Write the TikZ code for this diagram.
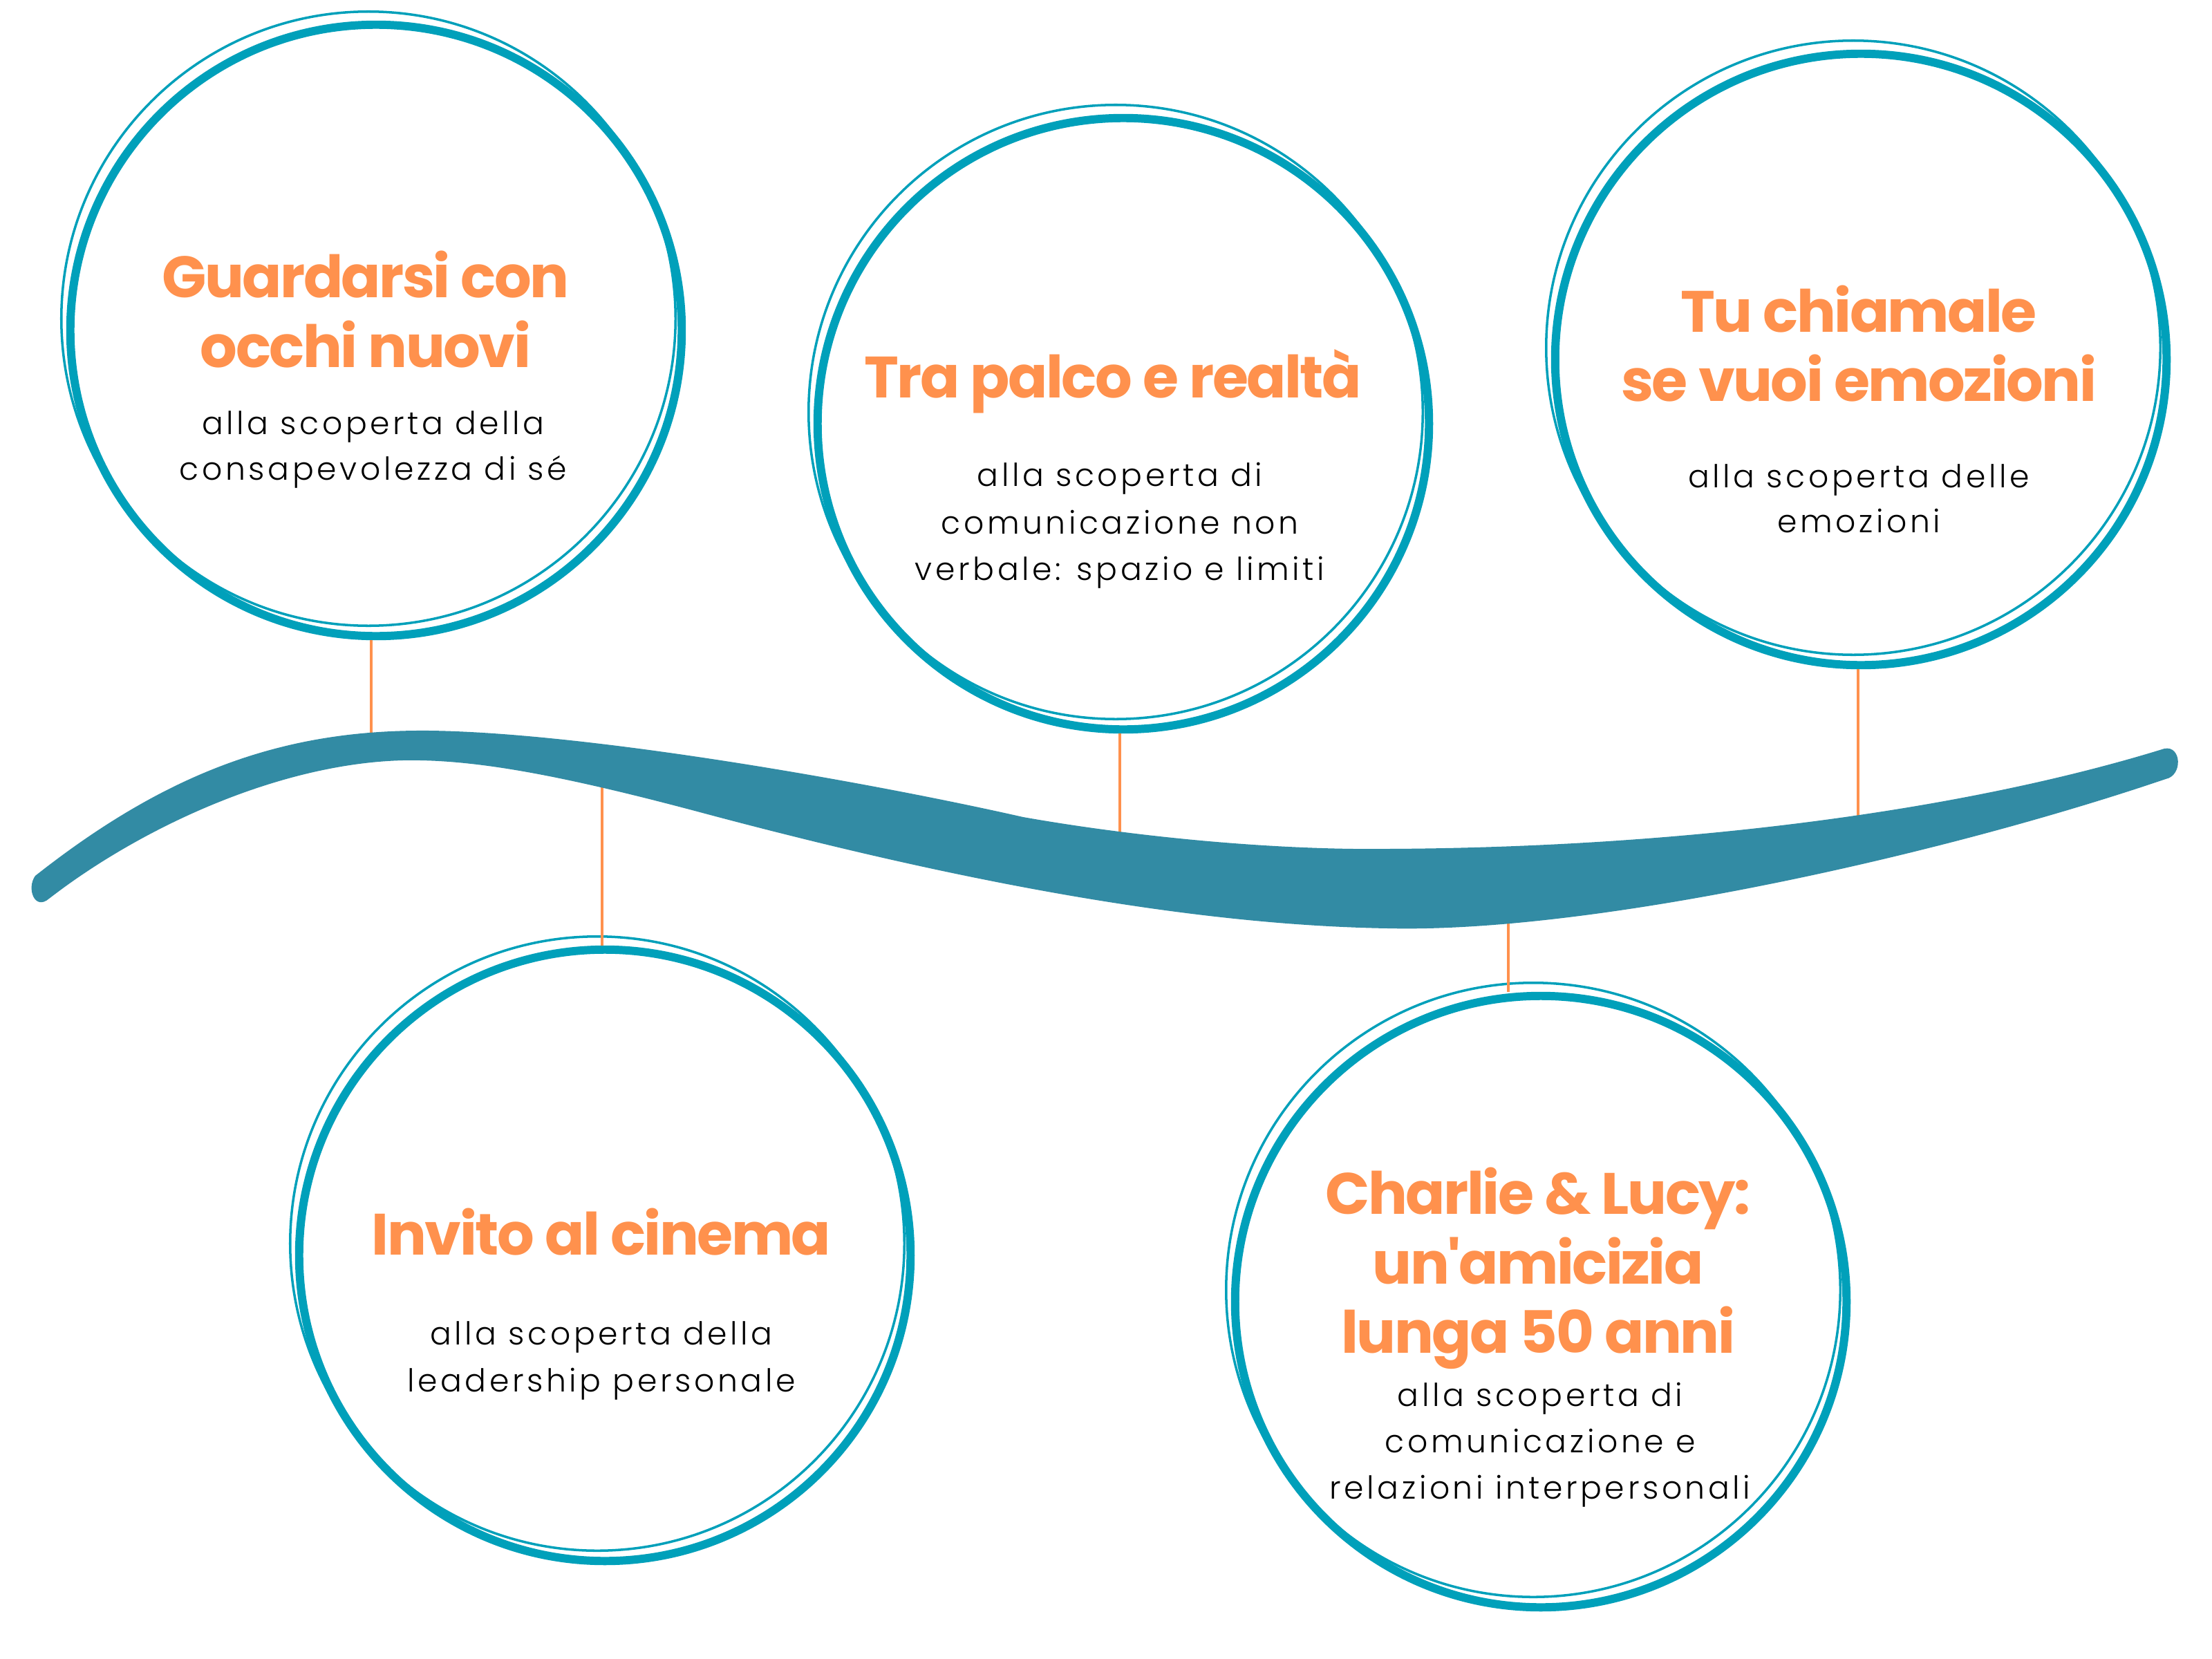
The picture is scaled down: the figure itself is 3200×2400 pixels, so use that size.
\documentclass[tikz,border=0pt]{standalone}
\usepackage{fontspec}
\newfontfamily\titlefont{Poppins}[LetterSpace=-3]
\IfFontExistsTF{Poppins Light}
  {\newfontfamily\subfont{Poppins Light}[LetterSpace=10]}
  {\newfontfamily\subfont{Poppins}[LetterSpace=10]}
\definecolor{ringc}{RGB}{0,160,186}
\definecolor{wavec}{RGB}{50,139,164}
\definecolor{orangec}{RGB}{255,145,77}
\tikzset{
  ringthick/.style={circle, draw=ringc, line width=3.4pt, minimum size=8.84cm, inner sep=0pt},
  ringthin/.style={draw=ringc, line width=1pt},
  link/.style={draw=orangec, line width=0.9pt},
  ttl/.style={anchor=base, text=orangec, inner sep=0pt, font=\titlefont\bfseries\fontsize{24}{28}\selectfont},
  sub/.style={anchor=base, text=black, inner sep=0pt, font=\subfont\fontsize{13}{19}\selectfont},
}
\begin{document}
\begin{tikzpicture}[x=0.01cm, y=-0.01cm]
\useasboundingbox (0,0) rectangle (3200,2400);
\fill[white] (0,0) rectangle (3200,2400);

% wave anchor points
\coordinate (w1) at (537,1080);
\coordinate (w2) at (871,1125);
\coordinate (w3) at (1620,1225);
\coordinate (w4) at (2182,1320);
\coordinate (w5) at (2688,1200);

% circles (thick rings as nodes)
\node[ringthick] (c1) at (544,478) {};
\node[ringthick] (c2) at (1625,613) {};
\node[ringthick] (c3) at (2692,520) {};
\node[ringthick] (c4) at (875,1816) {};
\node[ringthick] (c5) at (2229,1883) {};
\draw[ringthin] (c1.center) ++(-11,-17) circle[radius=4.44cm];
\draw[ringthin] (c2.center) ++(-11,-17) circle[radius=4.44cm];
\draw[ringthin] (c3.center) ++(-11,-17) circle[radius=4.44cm];
\draw[ringthin] (c4.center) ++(-11,-17) circle[radius=4.44cm];
\draw[ringthin] (c5.center) ++(-11,-17) circle[radius=4.44cm];

% connectors
\draw[link] (c1.south -| w1) -- (w1);
\draw[link] (w2) -- (w2 |- c4.north);
\draw[link] (c2.south -| w3) -- (w3);
\draw[link] (w4) -- (w4 |- c5.north);
\draw[link] (c3.south -| w5) -- (w5);

% wave ribbon
\fill[wavec] (51,1267)
  .. controls (250,1110) and (420,1055) .. (622,1057)
  .. controls (850,1060) and (1250,1130) .. (1480,1182)
  .. controls (1650,1212) and (1850,1230) .. (2008,1228)
  .. controls (2450,1226) and (2850,1170) .. (3131,1083)
  .. controls (3156,1078) and (3158,1122) .. (3133,1127)
  .. controls (2800,1240) and (2300,1350) .. (2008,1343)
  .. controls (1700,1338) and (1350,1265) .. (1020,1177)
  .. controls (800,1118) and (680,1098) .. (582,1100)
  .. controls (400,1105) and (200,1200) .. (71,1300)
  .. controls (50,1318) and (38,1285) .. (51,1267) -- cycle;

% texts circle 1
\node[ttl] (t1a) at (529,430) {Guardarsi con};
\node[ttl] (t1b) at (529,531) {occhi nuovi};
\node[sub] (s1a) at (540,628) {alla scoperta della};
\node[sub] (s1b) at (540,694) {consapevolezza di sé};

% circle 2
\node[ttl] (t2a) at (1610,575) {Tra palco e realtà};
\node[sub] (s2a) at (1620,703) {alla scoperta di};
\node[sub] (s2b) at (1620,772) {comunicazione non};
\node[sub] (s2c) at (1620,839) {verbale: spazio e limiti};

% circle 3
\node[ttl] (t3a) at (2689,480) {Tu chiamale};
\node[ttl] (t3b) at (2689,580) {se vuoi emozioni};
\node[sub] (s3a) at (2689,705) {alla scoperta delle};
\node[sub] (s3b) at (2689,770) {emozioni};

% circle 4
\node[ttl] (t4a) at (870,1815) {Invito al cinema};
\node[sub] (s4a) at (870,1945) {alla scoperta della};
\node[sub] (s4b) at (870,2013) {leadership personale};

% circle 5
\node[ttl] (t5a) at (2225,1756) {Charlie \& Lucy:};
\node[ttl] (t5b) at (2225,1857) {un'amicizia};
\node[ttl] (t5c) at (2225,1957) {lunga 50 anni};
\node[sub] (s5a) at (2228,2034) {alla scoperta di};
\node[sub] (s5b) at (2228,2101) {comunicazione e};
\node[sub] (s5c) at (2228,2168) {relazioni interpersonali};
\end{tikzpicture}
\end{document}
